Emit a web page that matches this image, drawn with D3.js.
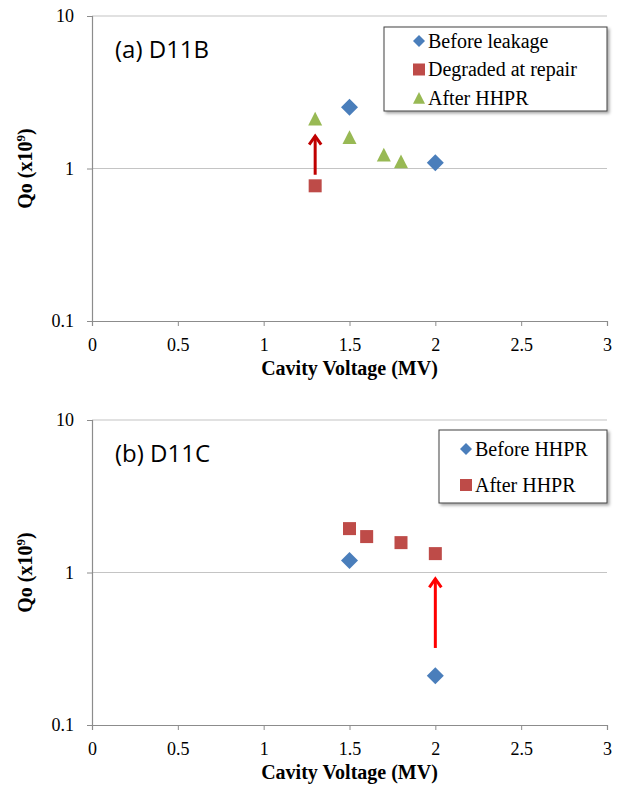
<!DOCTYPE html>
<html><head><meta charset="utf-8">
<script src="https://cdn.jsdelivr.net/npm/d3@7"></script>
<style>body{margin:0;background:#fff}svg{display:block}</style>
</head><body>
<script>
// ---- Data ----
const xTicks = [0, 0.5, 1, 1.5, 2, 2.5, 3];
const yTicks = [0.1, 1, 10];

// Panel (a) D11B
const aBeforeLeakage = [[1.5, 2.52], [2.0, 1.09]];
const aDegraded = [[1.3, 0.77]];
const aAfterHHPR = [[1.3, 2.12], [1.5, 1.6], [1.7, 1.23], [1.8, 1.11]];
const aArrow = [1.3, 0.91, 1.67];

// Panel (b) D11C
const bBeforeHHPR = [[1.5, 1.2], [2.0, 0.21]];
const bAfterHHPR = [[1.5, 1.94], [1.6, 1.72], [1.8, 1.57], [2.0, 1.33]];
const bArrow = [2.0, 0.32, 0.93];

const W = 622, H = 790;
const svg = d3.select("body").append("svg").attr("width", W).attr("height", H);
const defs = svg.append("defs");
const f = defs.append("filter").attr("id","shadow").attr("x","-10%").attr("y","-10%").attr("width","130%").attr("height","140%");
f.append("feDropShadow").attr("dx",2).attr("dy",2).attr("stdDeviation",1.5).attr("flood-color","#000").attr("flood-opacity",0.35);

const x = d3.scaleLinear().domain([0, 3]).range([92, 607]);
const COL = {blue:"#4a7ebb", red:"#be4b48", green:"#98b954"};
const SERIF = '"Liberation Serif","Times New Roman",Times,serif';

function marker(g, type, cx, cy, color, s) {
  if (type === "diamond") {
    const r = s || 8.5;
    g.append("path").attr("d", `M${cx},${cy-r}L${cx+r},${cy}L${cx},${cy+r}L${cx-r},${cy}Z`).attr("fill", color);
  } else if (type === "square") {
    const r = s || 6.5;
    g.append("rect").attr("x", cx-r).attr("y", cy-r).attr("width", 2*r).attr("height", 2*r).attr("fill", color);
  } else {
    const r = s || 7;
    g.append("path").attr("d", `M${cx},${cy-r}L${cx+r},${cy+r*0.95}L${cx-r},${cy+r*0.95}Z`).attr("fill", color);
  }
}

function serifText(sel, size, bold) {
  sel.style("font-family", SERIF).style("font-size", size + "px")
    .style("font-weight", bold ? "bold" : "normal").attr("fill", "#000");
  return sel;
}

function panel(top, bottom, title, series, legend, arrow, arrowColor) {
  const y = d3.scaleLog().domain([0.1, 10]).range([bottom, top]);
  const g = svg.append("g");
  g.selectAll(".grid").data(yTicks.slice(1)).enter().append("line")
    .attr("x1", x(0)).attr("x2", x(3)).attr("y1", d => y(d)).attr("y2", d => y(d))
    .attr("stroke", "#c4c4c4").attr("stroke-width", 1.2);
  const ya = g.append("g").attr("transform", `translate(${x(0)},0)`)
    .call(d3.axisLeft(y).tickValues(yTicks).tickFormat(d => String(d)).tickSize(5).tickPadding(13));
  ya.select(".domain").attr("stroke", "#8c8c8c").attr("stroke-width", 1.2);
  ya.selectAll(".tick line").attr("stroke", "#8c8c8c");
  serifText(ya.selectAll("text"), 18);
  const xa = g.append("g").attr("transform", `translate(0,${bottom})`)
    .call(d3.axisBottom(x).tickValues(xTicks).tickFormat(d => String(d)).tickSize(5).tickPadding(12));
  xa.select(".domain").attr("stroke", "#8c8c8c").attr("stroke-width", 1.2);
  xa.selectAll(".tick line").attr("stroke", "#8c8c8c");
  serifText(xa.selectAll("text"), 18);
  serifText(g.append("text").attr("x", (x(0) + x(3)) / 2).attr("y", bottom + 53.5).attr("text-anchor", "middle"), 20, true)
    .text("Cavity Voltage (MV)");
  const yt = serifText(g.append("text").attr("transform", `translate(32,${y(1)}) rotate(-90)`).attr("text-anchor", "middle"), 20, true);
  yt.append("tspan").text("Qo (x10");
  yt.append("tspan").attr("dy", -7).style("font-size", "13px").text("9");
  yt.append("tspan").attr("dy", 7).text(")");
  g.append("text").attr("x", 115).attr("y", top + 42).style("font-family", "'Open Sans',sans-serif")
    .style("font-size", "24px").attr("fill", "#000").text(title);
  const ax = x(arrow[0]), ay1 = y(arrow[1]), ay2 = y(arrow[2]);
  const ag = g.append("g").attr("stroke", arrowColor).attr("stroke-width", 3).attr("fill", "none");
  ag.append("line").attr("x1", ax).attr("x2", ax).attr("y1", ay1).attr("y2", ay2 + 1.5);
  ag.append("path").attr("d", `M${ax-6},${ay2+10}L${ax},${ay2+1.5}L${ax+6},${ay2+10}`);
  series.forEach(s => s.data.forEach(d => marker(g, s.type, x(d[0]), y(d[1]), s.color)));
  const lg = g.append("g");
  lg.append("rect").attr("x", legend.x).attr("y", legend.y).attr("width", legend.w).attr("height", legend.h)
    .attr("fill", "#fff").attr("stroke", "#404040").attr("stroke-width", 1).attr("filter", "url(#shadow)");
  series.forEach((s, i) => {
    const cy = legend.y + legend.first + i * legend.step;
    marker(lg, s.type, legend.x + legend.mx, cy, s.color, 6);
    serifText(lg.append("text").attr("x", legend.x + legend.mx + 9).attr("y", cy + 6.5), 20).text(s.name);
  });
}

panel(16, 321, "(a) D11B", [
  {name: "Before leakage", type: "diamond", color: COL.blue, data: aBeforeLeakage},
  {name: "Degraded at repair", type: "square", color: COL.red, data: aDegraded},
  {name: "After HHPR", type: "triangle", color: COL.green, data: aAfterHHPR}
], {x: 384, y: 27, w: 223, h: 84, first: 14, step: 28.5, mx: 35}, aArrow, "#c00000");

panel(420, 725, "(b) D11C", [
  {name: "Before HHPR", type: "diamond", color: COL.blue, data: bBeforeHHPR},
  {name: "After HHPR", type: "square", color: COL.red, data: bAfterHHPR}
], {x: 439, y: 430, w: 168, h: 73, first: 19, step: 36, mx: 27}, bArrow, "#ff0000");
</script>
</body></html>
